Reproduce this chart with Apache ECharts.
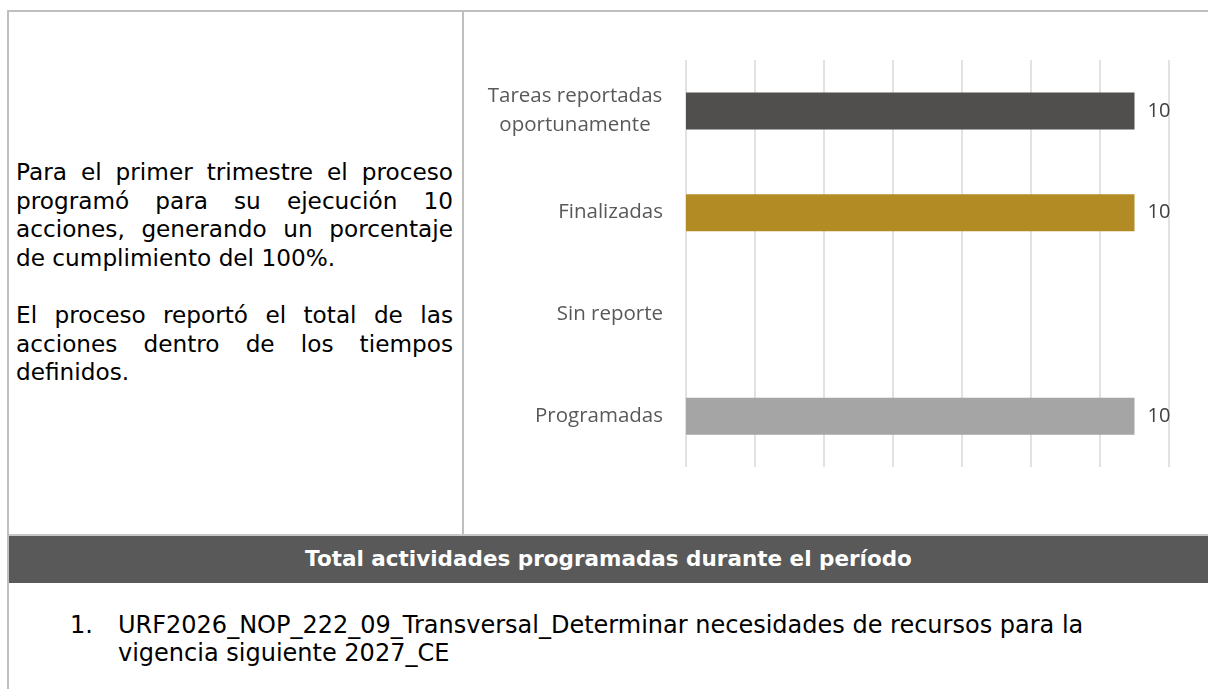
<!DOCTYPE html>
<html>
<head>
<meta charset="utf-8">
<script src="https://cdn.jsdelivr.net/npm/echarts@6/dist/echarts.min.js"></script>
<style>
  html, body { margin:0; padding:0; background:#fff; width:1208px; height:689px; overflow:hidden; }
  .frame { position:absolute; left:7px; top:10px; width:1210px; height:690px; border-left:2px solid #bfbfbf; border-top:2px solid #bfbfbf; box-sizing:border-box; }
  .divider { position:absolute; left:462px; top:10px; width:2px; height:524px; background:#bfbfbf; }
  .lefttext { position:absolute; left:16px; top:158px; width:437px; font-family:"DejaVu Sans", Verdana, sans-serif; font-size:23.2px; line-height:28.6px; color:#000; text-align:justify; }
  .lefttext p { margin:0 0 28.6px 0; }
  #chart { position:absolute; left:464px; top:12px; width:744px; height:522px; }
  .header { position:absolute; left:9px; top:534px; width:1199px; height:49px; background:#595959; border-top:2px solid #c8c8c8; box-sizing:border-box; color:#fff; font-family:"DejaVu Sans", Verdana, sans-serif; font-weight:bold; font-size:21.5px; line-height:45px; text-align:center; }
  .list { position:absolute; left:70px; top:611px; width:1120px; font-family:"DejaVu Sans", Verdana, sans-serif; font-size:24px; line-height:28.3px; color:#000; }
  .list .num { position:absolute; left:0; top:0; }
  .list .txt { position:absolute; left:48px; top:0; width:1010px; }
</style>
</head>
<body>
<div class="frame"></div>
<div class="divider"></div>
<div class="lefttext">
  <p>Para el primer trimestre el proceso programó para su ejecución 10 acciones, generando un porcentaje de cumplimiento del 100%.</p>
  <p>El proceso reportó el total de las acciones dentro de los tiempos definidos.</p>
</div>
<div id="chart"></div>
<div class="header">Total actividades programadas durante el período</div>
<div class="list"><span class="num">1.</span><span class="txt">URF2026_NOP_222_09_Transversal_Determinar necesidades de recursos para la vigencia siguiente 2027_CE</span></div>
<script>
const categories = ["Programadas", "Sin reporte", "Finalizadas", "Tareas reportadas oportunamente"];
const values = [10, null, 10, 10];
const barColors = ["#a5a5a5", "#a5a5a5", "#b38b25", "#514f4d"];

const labelFont = '"Open Sans", "Noto Sans", sans-serif';
const chart = echarts.init(document.getElementById('chart'));
chart.setOption({
  animation: false,
  grid: { left: 222, right: 39, top: 48, bottom: 67, containLabel: false },
  xAxis: {
    type: 'value', min: 0, max: 140/13, interval: 20/13,
    axisLabel: { show: false }, axisLine: { show: false }, axisTick: { show: false },
    splitLine: { show: true, lineStyle: { color: '#d9d9d9', width: 1.5 } }
  },
  yAxis: {
    type: 'category', data: categories,
    axisLine: { show: false }, axisTick: { show: false },
    axisLabel: {
      margin: 23, color: '#595959', fontFamily: labelFont, fontSize: 20.5,
      formatter: function (v) {
        if (v === "Tareas reportadas oportunamente") return '{c|Tareas reportadas}\n{c|oportunamente}';
        return v;
      },
      rich: { c: { width: 176, align: 'center', lineHeight: 29, color: '#595959', fontSize: 20.5, fontFamily: labelFont } }
    }
  },
  series: [{
    type: 'bar', barWidth: 37,
    data: values.map((v, i) => ({ value: v, itemStyle: { color: barColors[i] } })),
    label: { show: true, position: 'right', distance: 13, color: '#404040', fontSize: 20, fontFamily: labelFont }
  }]
});
</script>
</body>
</html>
